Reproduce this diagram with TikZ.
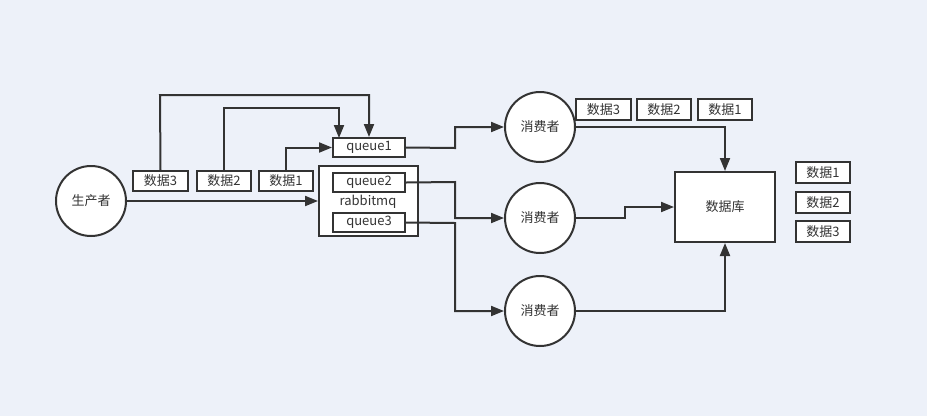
\documentclass[tikz,border=0pt]{standalone}
\usepackage{fontspec}
\setmainfont{Noto Sans CJK SC}
\usetikzlibrary{arrows.meta}
\definecolor{bg}{HTML}{EDF1F9}
\definecolor{ln}{HTML}{333333}
\tikzset{
  every node/.style={font=\fontsize{13}{15}\selectfont, text=ln},
  boxn/.style={draw=ln, line width=2pt, fill=white, inner sep=0pt},
  circn/.style={draw=ln, line width=2pt, fill=white, circle, minimum size=70pt, inner sep=0pt},
  conn/.style={draw=ln, line width=2pt, -{Triangle[length=13pt,width=10pt]}},
}
\begin{document}
\begin{tikzpicture}[x=1pt,y=-1pt]
\fill[bg] (0,0) rectangle (927,416);
\useasboundingbox (0,0) rectangle (927,416);
% producer
\node[circn] (prod) at (91,201) {生产者};
% data boxes left
\node[boxn, minimum width=55pt, minimum height=20pt] (d3) at (160.5,181) {数据3};
\node[boxn, minimum width=54pt, minimum height=20pt] (d2) at (224,181) {数据2};
\node[boxn, minimum width=54pt, minimum height=20pt] (d1) at (286,181) {数据1};
% rabbitmq
\node[boxn, minimum width=99pt, minimum height=70pt] (rmq) at (368.5,201) {};
\node (rlabel) at (368,202) {rabbitmq};
\node[boxn, minimum width=72pt, minimum height=19pt] (q1) at (369,147.5) {queue1};
\node[boxn, minimum width=72pt, minimum height=19pt] (q2) at (369,182.5) {queue2};
\node[boxn, minimum width=72pt, minimum height=19pt] (q3) at (369,222.5) {queue3};
% consumers
\node[circn] (c1) at (540,127) {消费者};
\node[circn] (c2) at (540,218) {消费者};
\node[circn] (c3) at (540,311) {消费者};
% database
\node[boxn, minimum width=100pt, minimum height=70pt] (db) at (725,207) {数据库};
% top data boxes
\node[boxn, minimum width=55pt, minimum height=21pt] (t3) at (603.5,109.5) {数据3};
\node[boxn, minimum width=54pt, minimum height=21pt] (t2) at (664,109.5) {数据2};
\node[boxn, minimum width=54pt, minimum height=21pt] (t1) at (725,109.5) {数据1};
% right data boxes
\node[boxn, minimum width=54pt, minimum height=21pt] (r1) at (823,172.5) {数据1};
\node[boxn, minimum width=54pt, minimum height=21pt] (r2) at (823,202.5) {数据2};
\node[boxn, minimum width=54pt, minimum height=21pt] (r3) at (823,231.5) {数据3};
% connectors
\draw[conn] (prod.east |- 0,201) -- (rmq.west |- 0,201);
\draw[conn] (d1.north) |- (q1.west);
\draw[conn] (d2.north) -- (224,108) -- (339,108) -- (339,138);
\draw[conn] (d3.north) -- (160,95) -- (369,95) -- (q1.north);
\draw[conn] (q1.east) -- (455,148) |- (c1.west);
\draw[conn] (q2.east) -- (455,182) |- (c2.west);
\draw[conn] (q3.east) -- (455,223) |- (c3.west);
\draw[conn] (c1.east) -| (db.north);
\draw[conn] (c2.east) -- (625,218) |- (db.west);
\draw[conn] (c3.east) -| (db.south);
\end{tikzpicture}
\end{document}
